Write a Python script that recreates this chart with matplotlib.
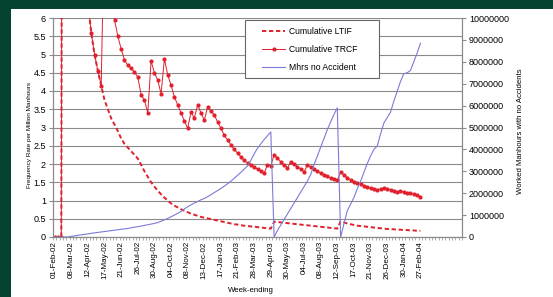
import numpy as np
import matplotlib
matplotlib.use("Agg")
from matplotlib import pyplot as plt
from matplotlib.patches import Rectangle
from matplotlib.ticker import FixedLocator

plt.rcParams['font.family'] = ['Liberation Sans', 'DejaVu Sans']

# week-ending labels shown on the category axis (every 5th week)
tick_labels = ["01-Feb-02", "08-Mar-02", "12-Apr-02", "17-May-02", "21-Jun-02",
               "26-Jul-02", "30-Aug-02", "04-Oct-02", "08-Nov-02", "13-Dec-02",
               "17-Jan-03", "21-Feb-03", "28-Mar-03", "29-Apr-03", "30-May-03",
               "04-Jul-03", "08-Aug-03", "12-Sep-03", "17-Oct-03", "21-Nov-03",
               "26-Dec-03", "30-Jan-04", "27-Feb-04"]

# cumulative LTIF (frequency rate per million manhours), one value per week
ltif = [0, 0, 0, 60, 30, 20, 15, 11, 9, 7.5,
        6.4, 5.6, 5.0, 4.55, 4.15, 3.75, 3.5, 3.25, 3.08, 2.9,
        2.7, 2.55, 2.45, 2.35, 2.25, 2.15, 1.98, 1.8, 1.65, 1.5,
        1.38, 1.27, 1.17, 1.08, 1.0, 0.92, 0.86, 0.81, 0.76, 0.72,
        0.68, 0.64, 0.61, 0.58, 0.55, 0.53, 0.51, 0.49, 0.47, 0.45,
        0.43, 0.41, 0.39, 0.37, 0.35, 0.34, 0.32, 0.31, 0.30, 0.29,
        0.28, 0.27, 0.26, 0.25, 0.24, 0.23, 0.42, 0.41, 0.40, 0.39,
        0.38, 0.37, 0.36, 0.35, 0.34, 0.33, 0.32, 0.31, 0.30, 0.29,
        0.28, 0.27, 0.26, 0.25, 0.24, 0.23, 0.43, 0.40, 0.37, 0.35,
        0.33, 0.31, 0.30, 0.29, 0.28, 0.27, 0.26, 0.25, 0.24, 0.23,
        0.22, 0.22, 0.21, 0.20, 0.20, 0.19, 0.19, 0.18, 0.18, 0.17,
        0.17]

# cumulative TRCF
trcf = [0, 0, 0, 60, 30, 20, 15, 11, 9, 7.5,
        6.4, 5.6, 5.0, 4.55, 4.15, 9.0, 7.4, 6.5, 5.95, 5.5,
        5.15, 4.85, 4.7, 4.62, 4.52, 4.38, 3.9, 3.75, 3.4, 4.82,
        4.5, 4.3, 3.92, 4.88, 4.44, 4.16, 3.84, 3.62, 3.4, 3.18,
        2.98, 3.42, 3.26, 3.62, 3.4, 3.2, 3.56, 3.45, 3.35, 3.15,
        2.98, 2.79, 2.66, 2.52, 2.4, 2.3, 2.2, 2.1, 2.03, 1.97,
        1.92, 1.86, 1.8, 1.75, 1.97, 1.95, 2.25, 2.16, 2.06, 1.97,
        1.89, 2.06, 2.0, 1.93, 1.86, 1.78, 1.97, 1.92, 1.85, 1.8,
        1.75, 1.7, 1.66, 1.62, 1.58, 1.55, 1.78, 1.7, 1.63, 1.57,
        1.52, 1.48, 1.44, 1.4, 1.37, 1.34, 1.32, 1.3, 1.32, 1.34,
        1.32, 1.3, 1.26, 1.24, 1.26, 1.23, 1.2, 1.2, 1.17, 1.14,
        1.1]

# manhours worked with no accident (millions)
mhrs = [0, 0, 0, 0, 0, 0.03, 0.05, 0.08, 0.10, 0.12,
        0.14, 0.17, 0.19, 0.21, 0.23, 0.25, 0.27, 0.29, 0.31, 0.33,
        0.35, 0.37, 0.39, 0.42, 0.45, 0.47, 0.50, 0.53, 0.56, 0.59,
        0.62, 0.66, 0.72, 0.78, 0.85, 0.92, 1.0, 1.08, 1.17, 1.28,
        1.38, 1.47, 1.55, 1.62, 1.7, 1.76, 1.84, 1.93, 2.03, 2.12,
        2.22, 2.32, 2.43, 2.55, 2.68, 2.82, 2.95, 3.1, 3.25, 3.5,
        3.8, 4.05, 4.25, 4.45, 4.62, 4.8, 0, 0.3, 0.55, 0.8,
        1.05, 1.3, 1.55, 1.8, 2.05, 2.3, 2.55, 2.85, 3.3, 3.7,
        4.1, 4.5, 4.9, 5.25, 5.6, 5.9, 0, 0.6, 1.2, 1.5,
        1.8, 2.2, 2.55, 2.95, 3.35, 3.7, 4.0, 4.15, 4.7, 5.2,
        5.45, 5.7, 6.2, 6.65, 7.1, 7.45, 7.5, 7.6, 8.0, 8.4,
        8.85]

left_ticks = [0, 0.5, 1, 1.5, 2, 2.5, 3, 3.5, 4, 4.5, 5, 5.5, 6]
right_ticks = [0, 1000000, 2000000, 3000000, 4000000, 5000000,
               6000000, 7000000, 8000000, 9000000, 10000000]

red = '#e0202c'
blue = '#7b7bd8'
grey = '#8a8a8a'

fig = plt.figure(figsize=(5.53, 2.97), dpi=100, facecolor='#03422f')
fig.patches.append(Rectangle((11 / 553, 0), 1, 1 - 9 / 297, transform=fig.transFigure,
                             facecolor='white', edgecolor='none', zorder=-10))

ax = fig.add_axes([53 / 553, 1 - 237 / 297, 409 / 553, 219 / 297])
ax.set_facecolor('none')
x = np.arange(len(ltif))

ax.plot(x, ltif, color=red, lw=1.4, ls=(0, (2.2, 1.4)), label='Cumulative LTIF', zorder=3)
ax.plot(x, trcf, color=red, lw=0.7, marker='o', ms=2.0, label='Cumulative TRCF', zorder=4)

ax2 = ax.twinx()
ax2.plot(x, np.array(mhrs) * 1e6, color=blue, lw=0.8, label='Mhrs no Accident')

ax.set_xlim(-0.5, 122.5)
ax.set_yticks(left_ticks)
ax.set_yticklabels([f'{v:g}' for v in left_ticks])
ax2.set_yticks(right_ticks)
ax2.set_yticklabels([str(v) for v in right_ticks])
ax.set_ylim(0, 6)
ax2.set_ylim(0, 10000000)
ax.grid(axis='y', color=grey, lw=0.8)

ax.set_xticks(np.arange(0, len(ltif), 5))
ax.set_xticklabels(tick_labels, rotation=90)
ax.xaxis.set_minor_locator(FixedLocator(np.arange(-0.5, 123, 1)))
ax.tick_params(axis='x', which='major', length=0, labelsize=5.8, pad=3)
ax.tick_params(axis='x', which='minor', length=2, color=grey, width=0.5)
ax.tick_params(axis='y', length=3, color=grey, labelsize=6.5, pad=2)
ax2.tick_params(axis='y', length=3, color=grey, labelsize=6.5, pad=2)

for a in (ax, ax2):
    a.spines['top'].set_visible(False)
    for s in ('left', 'right', 'bottom'):
        a.spines[s].set_color(grey)
        a.spines[s].set_linewidth(0.8)

fig.text(30 / 553, 1 - 135 / 297, 'Frequency Rate per Million Manhours', rotation=90,
         ha='center', va='center', fontsize=4.6)
fig.text(520 / 553, 1 - 131 / 297, 'Worked Manhours with no Accidents', rotation=90,
         ha='center', va='center', fontsize=5.6)
fig.text(251 / 553, 1 - 290 / 297, 'Week-ending', ha='center', va='center', fontsize=5.6)

# legend box drawn by hand so the padding matches the original
ax2.add_patch(Rectangle(((245 - 53) / 409, (237 - 78) / 219), 134 / 409, 58 / 219,
                        transform=ax2.transAxes, facecolor='white', edgecolor='#666666',
                        lw=0.8, zorder=5))
h1, l1 = ax.get_legend_handles_labels()
h2, l2 = ax2.get_legend_handles_labels()
leg = ax2.legend(h1 + h2, l1 + l2, loc='upper left',
                 bbox_to_anchor=((262 - 53) / 409, (237 - 27) / 219),
                 fontsize=6.2, frameon=False, handlelength=2.7, borderpad=0,
                 borderaxespad=0, labelspacing=1.05, handletextpad=0.4)
leg.set_zorder(6)

fig.savefig('out.png', dpi=100, facecolor=fig.get_facecolor())
